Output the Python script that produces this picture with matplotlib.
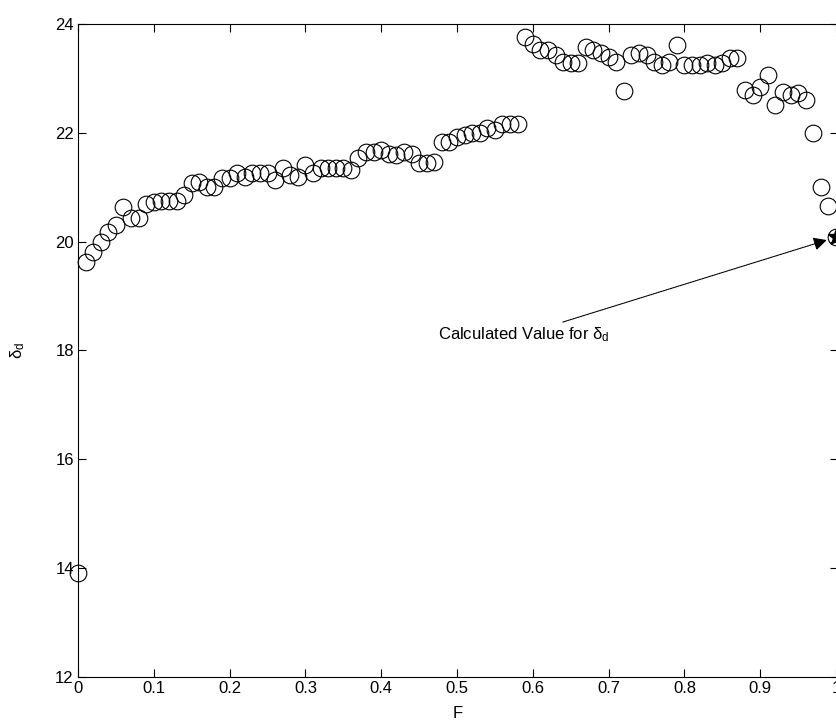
import matplotlib
matplotlib.use('Agg')
import matplotlib.pyplot as plt

plt.rcParams['font.family'] = ['Liberation Sans', 'DejaVu Sans']
plt.rcParams['mathtext.default'] = 'regular'

# F values (one sample every 0.01) and the measured delta_d
F = [0.00, 0.01, 0.02, 0.03, 0.04, 0.05, 0.06, 0.07, 0.08, 0.09,
     0.10, 0.11, 0.12, 0.13, 0.14, 0.15, 0.16, 0.17, 0.18, 0.19,
     0.20, 0.21, 0.22, 0.23, 0.24, 0.25, 0.26, 0.27, 0.28, 0.29,
     0.30, 0.31, 0.32, 0.33, 0.34, 0.35, 0.36, 0.37, 0.38, 0.39,
     0.40, 0.41, 0.42, 0.43, 0.44, 0.45, 0.46, 0.47, 0.48, 0.49,
     0.50, 0.51, 0.52, 0.53, 0.54, 0.55, 0.56, 0.57, 0.58, 0.59,
     0.60, 0.61, 0.62, 0.63, 0.64, 0.65, 0.66, 0.67, 0.68, 0.69,
     0.70, 0.71, 0.72, 0.73, 0.74, 0.75, 0.76, 0.77, 0.78, 0.79,
     0.80, 0.81, 0.82, 0.83, 0.84, 0.85, 0.86, 0.87, 0.88, 0.89,
     0.90, 0.91, 0.92, 0.93, 0.94, 0.95, 0.96, 0.97, 0.98, 0.99]
delta_d = [13.91, 19.63, 19.81, 20.00, 20.18, 20.30, 20.64, 20.43, 20.43, 20.69,
           20.72, 20.75, 20.75, 20.75, 20.85, 21.08, 21.10, 21.00, 21.00, 21.17,
           21.17, 21.26, 21.19, 21.26, 21.26, 21.26, 21.13, 21.35, 21.22, 21.19,
           21.41, 21.26, 21.35, 21.35, 21.35, 21.35, 21.32, 21.54, 21.65, 21.65,
           21.68, 21.62, 21.59, 21.65, 21.62, 21.44, 21.44, 21.47, 21.84, 21.84,
           21.93, 21.96, 22.00, 22.00, 22.09, 22.05, 22.16, 22.16, 22.16, 23.77,
           23.64, 23.52, 23.52, 23.43, 23.31, 23.28, 23.28, 23.58, 23.52, 23.46,
           23.40, 23.31, 22.76, 23.43, 23.46, 23.43, 23.31, 23.25, 23.31, 23.61,
           23.25, 23.25, 23.25, 23.28, 23.25, 23.28, 23.37, 23.37, 22.79, 22.70,
           22.84, 23.06, 22.51, 22.75, 22.70, 22.73, 22.60, 22.00, 21.00, 20.65]

# calculated value
F_calc = 1.0
delta_calc = 20.08

fig = plt.figure(figsize=(8.36, 7.25), dpi=100)
ax = fig.add_axes([78 / 836, 48 / 725, 760 / 836, 653 / 725])

ax.plot(F, delta_d, 'o', mfc='none', mec='black', ms=12, mew=0.8, clip_on=False)
ax.plot(F_calc, delta_calc, 'o', mfc='none', mec='black', ms=12, mew=0.8, clip_on=False)
ax.plot(F_calc, delta_calc, '*', color='black', ms=12, clip_on=False)

ax.annotate('Calculated Value for $\\delta_d$', xy=(0.988, 20.03), xytext=(0.475, 18.3),
            fontsize=12, va='center', ha='left',
            arrowprops=dict(arrowstyle='-|>', color='black', lw=0.8, ls=(0, (1.5, 0.8)),
                            mutation_scale=20, shrinkA=0, shrinkB=0))

ax.set_xlim(0, 1.0026)
ax.set_ylim(12, 24)
ax.set_xticks([0, 0.1, 0.2, 0.3, 0.4, 0.5, 0.6, 0.7, 0.8, 0.9, 1])
ax.set_xticklabels(['0', '0.1', '0.2', '0.3', '0.4', '0.5', '0.6', '0.7', '0.8', '0.9', '1'])
ax.set_yticks([12, 14, 16, 18, 20, 22, 24])
ax.tick_params(direction='in', top=True, right=True, length=6, width=0.8, labelsize=12, pad=3)
for s in ax.spines.values():
    s.set_linewidth(0.8)

ax.set_xlabel('F', fontsize=12, labelpad=7)
ax.set_ylabel('$\\delta_d$', fontsize=12, labelpad=20)

fig.savefig('out.png', dpi=100)
